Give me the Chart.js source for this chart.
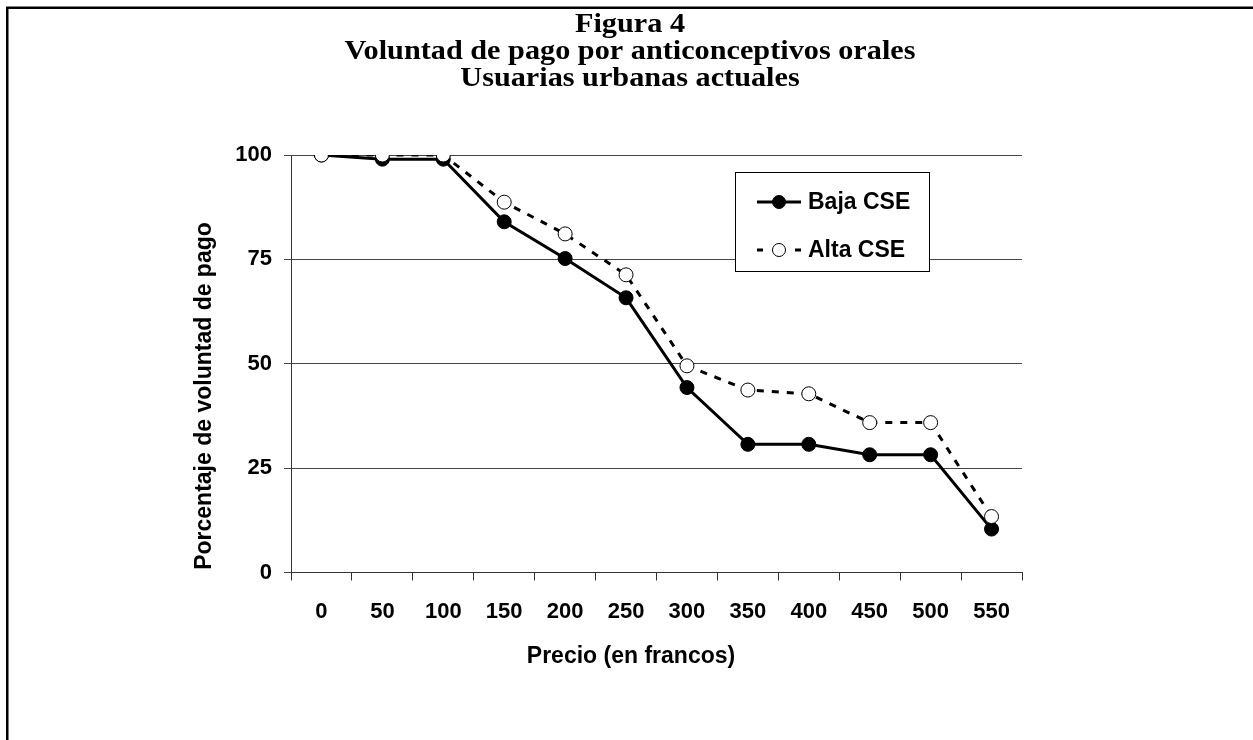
<!DOCTYPE html>
<html>
<head>
<meta charset="utf-8">
<script src="https://cdn.jsdelivr.net/npm/chart.js@4/dist/chart.umd.min.js"></script>
<style>
html,body{margin:0;padding:0;background:#fff;}
#wrap{position:relative;width:1253px;height:740px;}
</style>
</head>
<body>
<div id="wrap"><canvas id="c" width="1253" height="740"></canvas></div>
<script>
const categories = ['0','50','100','150','200','250','300','350','400','450','500','550'];
const bajaCSE = [100, 99, 99, 84, 75.2, 65.8, 44.3, 30.7, 30.7, 28.2, 28.2, 10.4];
const altaCSE = [100, 100, 100, 88.7, 81.1, 71.3, 49.5, 43.7, 42.8, 35.9, 35.9, 13.4];
const seriesNames = ['Baja CSE', 'Alta CSE'];
const titleLines = ['Figura 4', 'Voluntad de pago por anticonceptivos orales', 'Usuarias urbanas actuales'];
const xTitle = 'Precio (en francos)';
const yTitle = 'Porcentaje de voluntad de pago';

const SANS = '"Liberation Sans", Arial, sans-serif';
const SERIF = '"Liberation Serif", "Times New Roman", serif';

const decor = {
  id: 'decor',
  afterDraw(chart) {
    const ctx = chart.ctx;
    ctx.save();
    // outer frame (left and top edges visible)
    ctx.strokeStyle = '#000';
    ctx.lineWidth = 2.5;
    ctx.beginPath();
    ctx.moveTo(7.25, 760);
    ctx.lineTo(7.25, 7.75);
    ctx.lineTo(1280, 7.75);
    ctx.stroke();
    // title
    ctx.fillStyle = '#000';
    ctx.font = 'bold 28px ' + SERIF;
    ctx.textAlign = 'center';
    ctx.textBaseline = 'alphabetic';
    titleLines.forEach((t, i) => {
      ctx.save();
      ctx.translate(630, 32 + i * 27);
      ctx.scale(1.08, 1);
      ctx.fillText(t, 0, 0);
      ctx.restore();
    });
    // axis titles
    ctx.font = 'bold 23px ' + SANS;
    ctx.textBaseline = 'middle';
    ctx.fillText(xTitle, 631, 657);
    ctx.translate(205, 396);
    ctx.rotate(-Math.PI / 2);
    ctx.fillText(yTitle, 0, 0);
    ctx.restore();

    // legend
    ctx.save();
    const lx = 735.5, ly = 172.5, lw = 194, lh = 99;
    ctx.fillStyle = '#fff';
    ctx.fillRect(lx, ly, lw, lh);
    ctx.strokeStyle = '#000';
    ctx.lineWidth = 1;
    ctx.strokeRect(lx, ly, lw, lh);
    const ds = chart.data.datasets;
    const rows = [202, 250];
    ds.forEach((d, i) => {
      const y = rows[i];
      ctx.strokeStyle = '#000';
      ctx.lineWidth = 3;
      ctx.setLineDash([]);
      ctx.beginPath();
      if (d.borderDash && d.borderDash.length) {
        ctx.moveTo(757, y); ctx.lineTo(763, y);
        ctx.moveTo(795, y); ctx.lineTo(801, y);
      } else {
        ctx.moveTo(757, y); ctx.lineTo(801, y);
      }
      ctx.stroke();
      ctx.beginPath();
      ctx.arc(779, y, 6.5, 0, Math.PI * 2);
      ctx.fillStyle = d.pointBackgroundColor;
      ctx.fill();
      ctx.lineWidth = 1;
      ctx.strokeStyle = '#000';
      ctx.stroke();
      ctx.fillStyle = '#000';
      ctx.font = 'bold 23px ' + SANS;
      ctx.textAlign = 'left';
      ctx.textBaseline = 'middle';
      ctx.fillText(d.label, 808, y + 1);
    });
    ctx.restore();
  }
};

new Chart(document.getElementById('c'), {
  type: 'line',
  data: {
    labels: categories,
    datasets: [
      {
        label: seriesNames[0],
        data: bajaCSE,
        borderColor: '#000',
        borderWidth: 3,
        pointRadius: 7,
        pointBackgroundColor: '#000',
        pointBorderColor: '#000',
        pointBorderWidth: 1,
        tension: 0,
        order: 1
      },
      {
        label: seriesNames[1],
        data: altaCSE,
        borderColor: '#000',
        borderWidth: 3,
        borderDash: [7, 8],
        pointRadius: 7,
        pointBackgroundColor: '#fff',
        pointBorderColor: '#000',
        pointBorderWidth: 1,
        tension: 0,
        order: 0
      }
    ]
  },
  options: {
    responsive: false,
    animation: false,
    layout: { padding: { left: 0, right: 231, top: 155, bottom: 0 } },
    plugins: {
      legend: { display: false },
      title: { display: false },
      tooltip: { enabled: false }
    },
    scales: {
      x: {
        type: 'category',
        offset: true,
        grid: {
          offset: true,
          drawOnChartArea: false,
          drawTicks: true,
          tickLength: 8,
          color: '#333',
          lineWidth: 1
        },
        border: { display: true, color: '#333', width: 1 },
        ticks: {
          color: '#000',
          font: { family: SANS, size: 22, weight: 'bold' },
          padding: 18,
          maxRotation: 0,
          autoSkip: false
        },
        afterFit(scale) { scale.height = 167.5; }
      },
      y: {
        min: 0,
        max: 100,
        ticks: {
          stepSize: 25,
          color: '#000',
          font: { family: SANS, size: 22, weight: 'bold' },
          padding: 12
        },
        grid: {
          color: '#444',
          lineWidth: 1,
          drawTicks: true,
          tickLength: 7
        },
        border: { display: true, color: '#333', width: 1 },
        afterFit(scale) { scale.width = 291; }
      }
    }
  },
  plugins: [decor]
});
</script>
</body>
</html>
